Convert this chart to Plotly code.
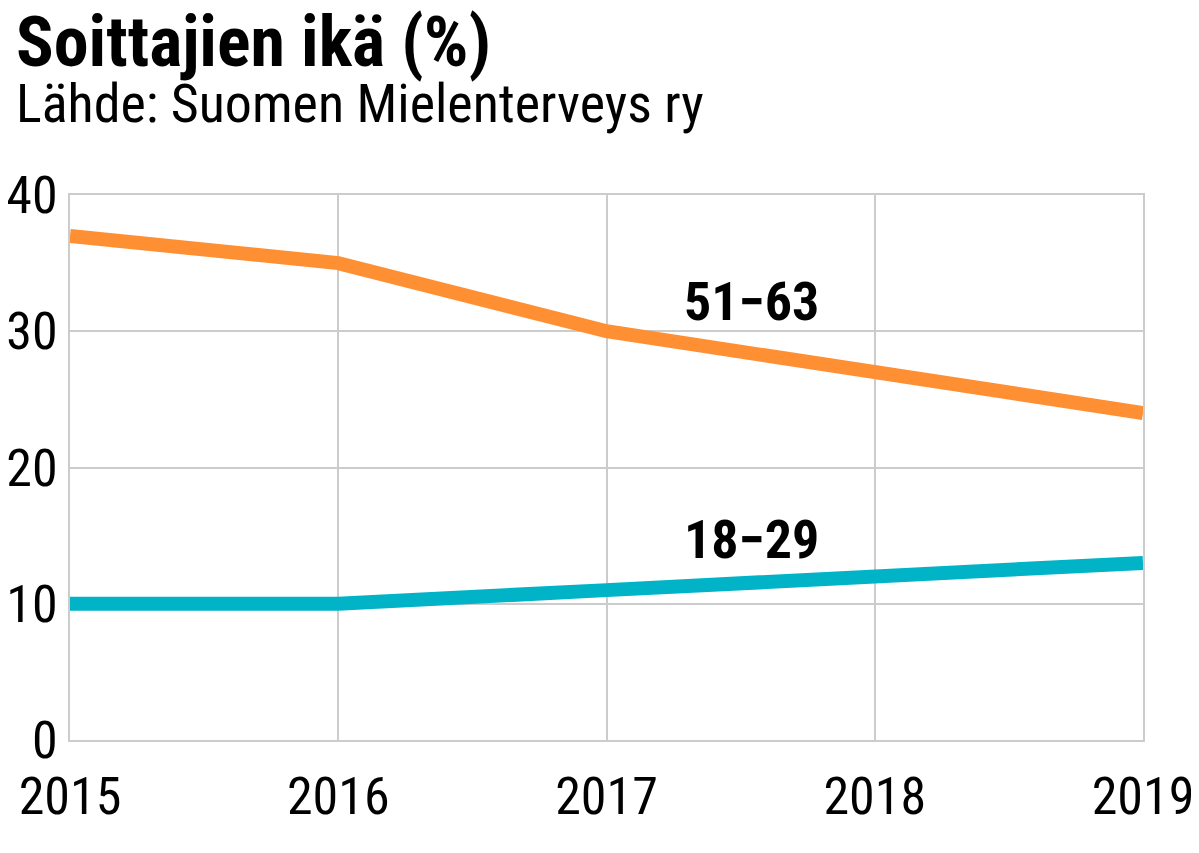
import plotly.graph_objects as go

years = [2015, 2016, 2017, 2018, 2019]
age_51_63 = [37, 35, 30, 27, 24]
age_18_29 = [10, 10, 11, 12, 13]
y_ticks = [0, 10, 20, 30, 40]

FONT = "Roboto Condensed, DejaVu Sans Condensed, Liberation Sans Narrow, Roboto, sans-serif"

fig = go.Figure()
fig.add_trace(go.Scatter(x=years, y=age_51_63, mode="lines",
                         line=dict(color="#FF8F33", width=14), name="51−63"))
fig.add_trace(go.Scatter(x=years, y=age_18_29, mode="lines",
                         line=dict(color="#00B3C6", width=14), name="18−29"))

fig.add_annotation(x=2017.54, y=32.15, text="<b>51−63</b>", showarrow=False,
                   font=dict(size=54, color="black", family=FONT))
fig.add_annotation(x=2017.54, y=14.7, text="<b>18−29</b>", showarrow=False,
                   font=dict(size=54, color="black", family=FONT))

fig.add_annotation(xref="paper", yref="paper", x=-0.052, y=1.281, xanchor="left", yanchor="middle",
                   text="<b>Soittajien ikä (%)</b>", showarrow=False,
                   font=dict(size=70, color="black", family=FONT))
fig.add_annotation(xref="paper", yref="paper", x=-0.052, y=1.167, xanchor="left", yanchor="middle",
                   text="Lähde: Suomen Mielenterveys ry", showarrow=False,
                   font=dict(size=54, color="black", family=FONT))

fig.update_layout(
    width=1191, height=845,
    margin=dict(l=62, r=56, t=187, b=113),
    paper_bgcolor="white", plot_bgcolor="white",
    showlegend=False,
    font=dict(family=FONT, size=52, color="black"),
)
fig.update_xaxes(range=[2015, 2019], tickvals=years, ticktext=[str(y) for y in years],
                 showgrid=True, gridcolor="#CCCCCC", gridwidth=2,
                 showline=True, linecolor="#CCCCCC", linewidth=2, mirror=True,
                 ticks="", ticklabelstandoff=10, automargin=False,
                 tickfont=dict(size=52, family=FONT), zeroline=False)
fig.update_yaxes(range=[0, 40], tickvals=y_ticks,
                 showgrid=True, gridcolor="#CCCCCC", gridwidth=2,
                 showline=True, linecolor="#CCCCCC", linewidth=2, mirror=True,
                 ticks="", ticklabelstandoff=0, automargin=False,
                 tickfont=dict(size=52, family=FONT), zeroline=False)

fig.write_html("out.html")
